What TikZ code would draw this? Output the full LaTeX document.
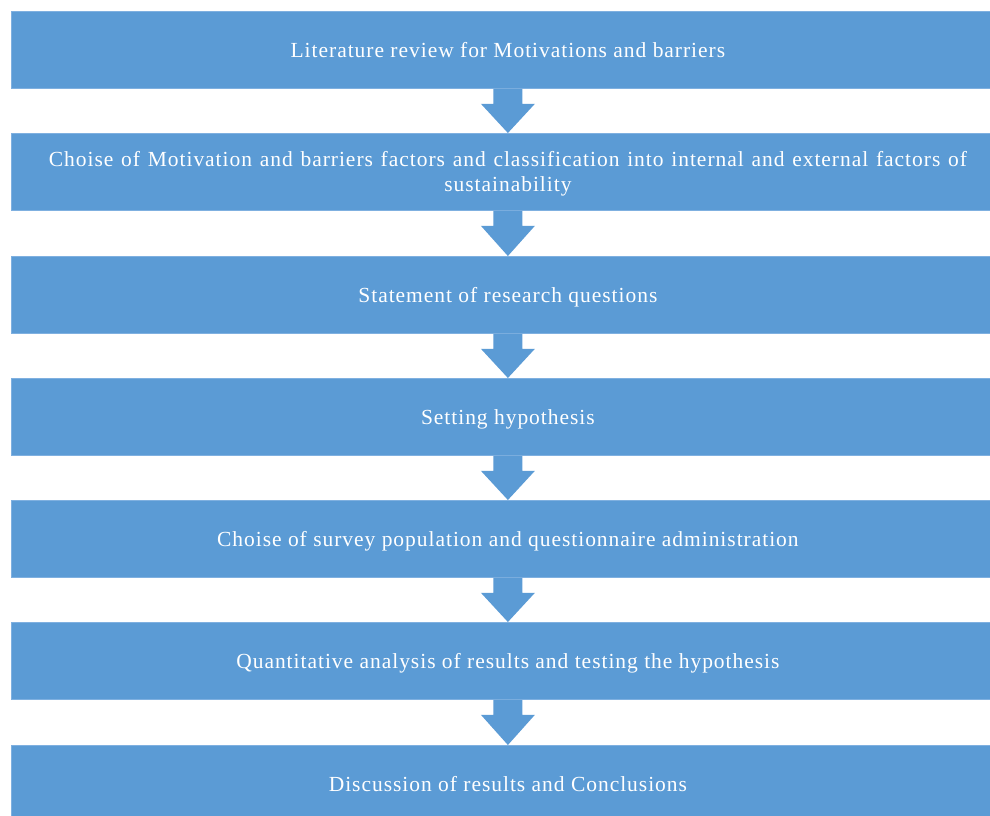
\documentclass[tikz,border=0pt]{standalone}
\usepackage{fontspec}
\setmainfont[LetterSpace=4.5]{Liberation Serif}
\usetikzlibrary{calc}
\definecolor{boxblue}{HTML}{5B9BD5}
\definecolor{boxedge}{HTML}{7FB0E0}
\tikzset{
  stagebox/.style={fill=boxblue, draw=boxedge, line width=0.8pt, anchor=north west,
    minimum width=993pt, minimum height=77pt, inner sep=0pt, text=white,
    font=\fontsize{21.5pt}{25pt}\selectfont, align=center,
    text height=14.2pt, text depth=0pt},
  twoline/.style={text height=39.2pt},
  flowarrow/.style={fill=boxblue, draw=none}
}
\newcommand\stagearrow[2]{%
  \fill[flowarrow] ($(#1.south)+(-14.5pt,0)$) -- ($(#1.south)+(-14.5pt,-15pt)$)
    -- ($(#1.south)+(-27pt,-15pt)$) -- (#2.north)
    -- ($(#1.south)+(27pt,-15pt)$) -- ($(#1.south)+(14.5pt,-15pt)$)
    -- ($(#1.south)+(14.5pt,0)$) -- cycle;}
\begin{document}
\begin{tikzpicture}[x=1pt,y=-1pt]
\useasboundingbox[fill=white] (0,0) rectangle (990,815);
\node[stagebox] (b1) at (11,11) {Literature review for Motivations and barriers};
\node[stagebox, twoline] (b2) at (11,133) {\makebox[918pt][s]{Choise of Motivation and barriers factors and classification into internal and external factors of}\\sustainability};
\node[stagebox] (b3) at (11,256) {Statement of research questions};
\node[stagebox] (b4) at (11,378) {Setting hypothesis};
\node[stagebox] (b5) at (11,500) {Choise of survey population and questionnaire administration};
\node[stagebox] (b6) at (11,622) {Quantitative analysis of results and testing the hypothesis};
\node[stagebox] (b7) at (11,745) {Discussion of results and Conclusions};
\stagearrow{b1}{b2}
\stagearrow{b2}{b3}
\stagearrow{b3}{b4}
\stagearrow{b4}{b5}
\stagearrow{b5}{b6}
\stagearrow{b6}{b7}
\end{tikzpicture}
\end{document}
